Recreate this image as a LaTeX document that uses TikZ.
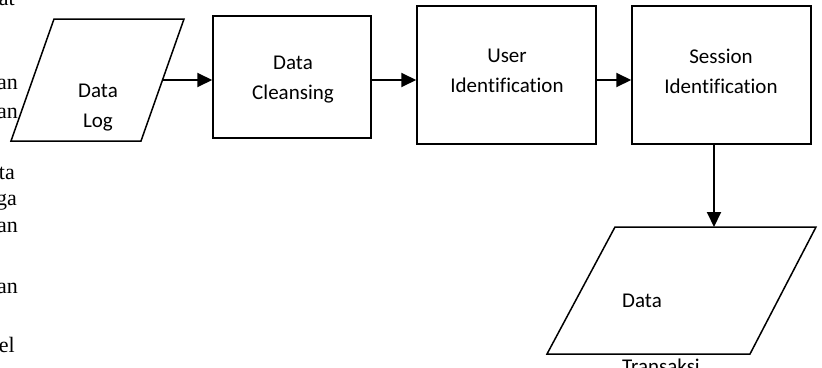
\documentclass[tikz,border=0pt]{standalone}
\usepackage{fontspec}
\setmainfont{Carlito}[Ligatures=NoCommon]
\newfontfamily\fragfont{Liberation Serif}
\usetikzlibrary{arrows.meta}
\begin{document}
\begin{tikzpicture}[x=1pt,y=-1pt,
  shapeline/.style={draw,line width=1.5pt,line join=miter},
  procbox/.style={shapeline,inner sep=0pt,minimum width=#1},
  txt/.style={font=\fontsize{21}{30}\selectfont,align=center,inner sep=0pt},
  arr/.style={line width=2pt,-{Triangle[length=15pt,width=14pt]}},
  frag/.style={font=\fragfont\fontsize{22}{26}\selectfont,anchor=base east,inner sep=0pt}]
\useasboundingbox (0,0) rectangle (822,367);

% leftover text fragments
\node[frag] (f1) at (15,5) {at};
\node[frag] (f2) at (18,89) {an};
\node[frag] (f3) at (18,118) {an};
\node[frag] (f4) at (15,179) {ta};
\node[frag] (f5) at (17,205) {ga};
\node[frag] (f6) at (18,232) {an};
\node[frag] (f7) at (18,293) {an};
\node[frag] (f8) at (15,352) {el};

% Data Log (parallelogram)
\coordinate (L1) at (54,19);
\coordinate (L2) at (184,19);
\coordinate (L3) at (141,141);
\coordinate (L4) at (11,141);
\draw[shapeline] (L1) -- (L2) -- (L3) -- (L4) -- cycle;
\node[txt] (logtxt) at (98,108) {Data\\Log};
\coordinate (logout) at (162.5,80);

% process boxes
\node[procbox=158pt,minimum height=122pt] (clean) at (292,77) {};
\node[txt] (cleantxt) at (293,80) {Data\\Cleansing};

\node[procbox=179pt,minimum height=138pt] (user) at (506.5,75) {};
\node[txt] (usertxt) at (507,71) {User\\Identification};

\node[procbox=179pt,minimum height=138pt] (session) at (721.5,75) {};
\node[txt] (sesstxt) at (721,71) {Session\\Identification};

% Data Transaksi (parallelogram)
\coordinate (T1) at (615,227);
\coordinate (T2) at (816,227);
\coordinate (T3) at (750,354);
\coordinate (T4) at (547,354);
\draw[shapeline] (T1) -- (T2) -- (T3) -- (T4) -- cycle;
\node[txt,anchor=base west] (trdata) at (622,307) {Data};
\node[txt,anchor=base west] (trtrans) at (622,373) {Transaksi};
\coordinate (trin) at (714,227);

% connectors
\draw[arr] (logout) -- (logout -| clean.west);
\draw[arr] (clean.east |- logout) -- (logout -| user.west);
\draw[arr] (user.east |- logout) -- (logout -| session.west);
\draw[arr] (session.south -| trin) -- (trin);
\end{tikzpicture}
\end{document}
